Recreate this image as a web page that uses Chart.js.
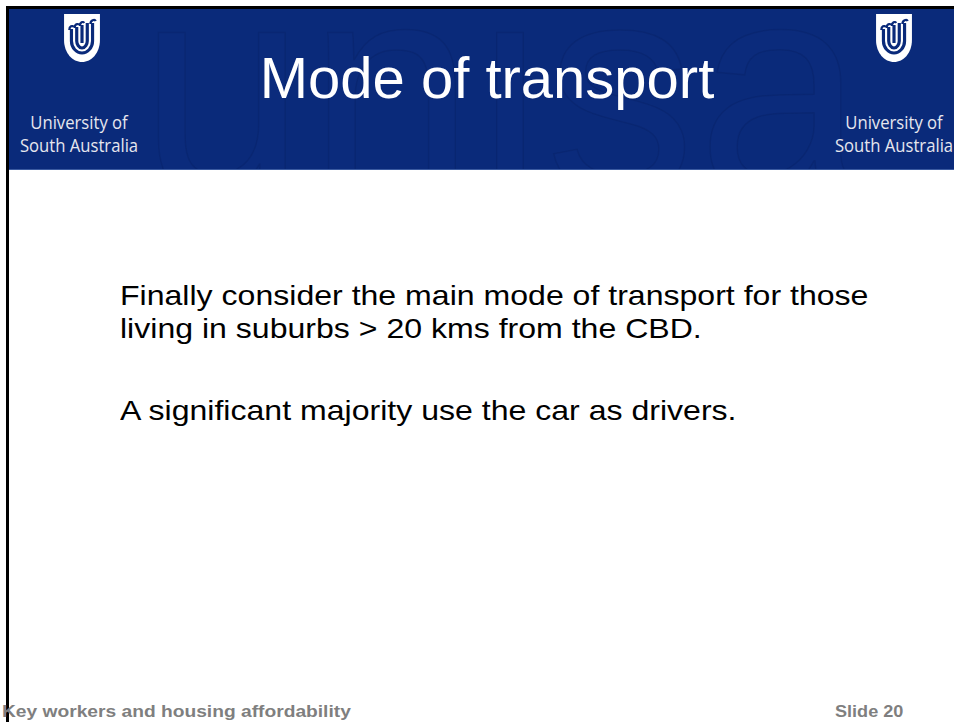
<!DOCTYPE html>
<html>
<head>
<meta charset="utf-8">
<script src="https://cdn.jsdelivr.net/npm/chart.js@4/dist/chart.umd.min.js"></script>
<style>
html,body{margin:0;padding:0;background:#fff;}
body{width:954px;height:722px;position:relative;overflow:hidden;font-family:"Liberation Sans",Arial,sans-serif;}
#topline{position:absolute;left:6px;top:6px;width:948px;height:3px;background:#000;}
#leftline{position:absolute;left:6px;top:6px;width:3px;height:716px;background:#000;}
#header{position:absolute;left:9px;top:9px;width:945px;height:160px;background:#0a2a7a;overflow:hidden;border-bottom:1px solid #3a5aa0;}
#wm{position:absolute;left:130px;top:-95px;font-size:300px;color:#0b2b7c;-webkit-text-stroke:1.5px rgba(0,0,30,0.08);letter-spacing:2px;font-family:"Liberation Sans",Arial,sans-serif;}
#title{position:absolute;left:0;width:974px;top:46px;text-align:center;color:#fff;font-size:58px;line-height:64px;}
.logo{position:absolute;top:0;width:140px;height:170px;color:#e6e6ee;text-align:center;font-family:"Open Sans","DejaVu Sans",sans-serif;font-size:17px;}
.logo .t1,.logo .t2{position:absolute;left:0;width:100%;line-height:20px;transform:scaleX(0.98) scaleY(1.08);}
.logo .t1{top:113px;}
.logo .t2{top:136px;}
.logo svg{position:absolute;top:13px;}
#body{position:absolute;left:120px;top:279px;font-size:28px;line-height:33px;color:#000;transform-origin:0 0;transform:scaleX(1.145);white-space:nowrap;}
.foot{position:absolute;top:703px;font-size:16px;font-weight:bold;color:#7f7f7f;transform-origin:0 0;white-space:nowrap;}
#footL{left:2px;transform:scaleX(1.2);}
#footR{left:835px;transform:scaleX(1.13);}
#chartwrap{position:absolute;left:120px;top:450px;width:760px;height:230px;}
</style>
</head>
<body>
<div id="header"><div id="wm">unisa</div></div>
<div id="topline"></div>
<div id="leftline"></div>
<div id="title"></div>
<div class="logo" id="logoL" style="left:9px"></div>
<div class="logo" id="logoR" style="left:824px"></div>
<div id="body"></div>
<div class="foot" id="footL"></div>
<div class="foot" id="footR"></div>
<div id="chartwrap"><canvas id="c"></canvas></div>
<script>
const titleText = "Mode of transport";
const bodyLines = ["Finally consider the main mode of transport for those", "living in suburbs > 20 kms from the CBD.", "", "A significant majority use the car as drivers."];
const logoLines = ["University of", "South Australia"];
const footerLeft = "Key workers and housing affordability";
const footerRight = "Slide 20";
// The slide contains no plotted data
const categories = [];
const values = [];

document.getElementById('title').textContent = titleText;
document.getElementById('body').innerHTML = bodyLines.map(l => l === "" ? "<div style='height:49px'></div>" : "<div>" + l.replace(/>/g,"&gt;") + "</div>").join("");
document.getElementById('footL').textContent = footerLeft;
document.getElementById('footR').textContent = footerRight;

const shield = `<svg width="38" height="50" viewBox="0 0 36 50" preserveAspectRatio="none">
<path d="M1 1 H35 V27 C35 40 27 49 18 49 C9 49 1 40 1 27 Z" fill="#fff"/>
<path d="M8 16 V28 C8 35 13 40 18 40 C23 40 28 35 28 28 V10" fill="none" stroke="#0a2a7a" stroke-width="3"/>
<path d="M13 14 V28 C13 31 15 35 18 35 C21 35 23 31 23 28 V10" fill="none" stroke="#0a2a7a" stroke-width="3"/>
<path d="M18 12 V30" fill="none" stroke="#0a2a7a" stroke-width="3"/>
<path d="M6 17 C6 13 9 12 10 14 M11 15 C11 11 14 10 15 12 M16 13 C16 9 19 8 20 10 M26 11 C26 7 30 6 31 8" fill="none" stroke="#0a2a7a" stroke-width="2.2"/>
</svg>`;
for (const id of ['logoL','logoR']) {
  const el = document.getElementById(id);
  el.innerHTML = shield + `<div class="t1">${logoLines[0]}</div><div class="t2">${logoLines[1]}</div>`;
  el.querySelector('svg').style.left = (id === 'logoL' ? 54 : 51) + 'px';
}

new Chart(document.getElementById('c'), {
  type: 'bar',
  data: { labels: categories, datasets: [{ data: values }] },
  options: {
    animation: false, responsive: true, maintainAspectRatio: false,
    plugins: { legend: { display: false }, tooltip: { enabled: false } },
    scales: { x: { display: false }, y: { display: false } }
  }
});
</script>
</body>
</html>
